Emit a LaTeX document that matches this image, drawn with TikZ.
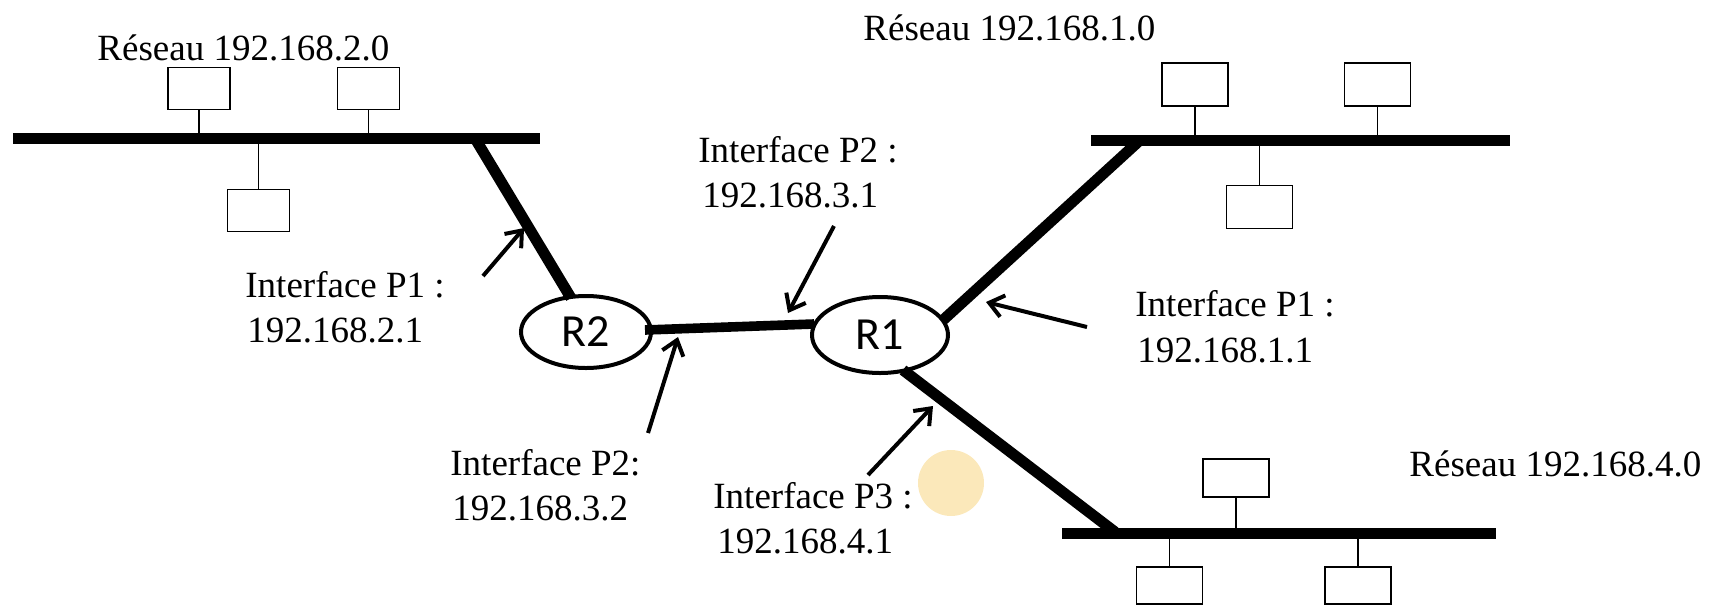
\documentclass[tikz,border=0pt]{standalone}
\usepackage{fontspec}
\setmainfont{Liberation Serif}
\newfontfamily\rfont{Carlito}
\usetikzlibrary{arrows.meta,shapes.geometric}
\definecolor{blobcol}{RGB}{251,232,186}
\begin{document}
\begin{tikzpicture}[x=0.5pt,y=-0.5pt,
  bus/.style={line width=5.5pt},
  link/.style={line width=4.8pt},
  stem/.style={line width=0.75pt},
  netbox/.style={draw, line width=0.75pt, rectangle, minimum width=31pt, minimum height=21pt, inner sep=0pt},
  netboxb/.style={netbox, minimum width=33pt, minimum height=21.5pt},
  router/.style={draw, ellipse, line width=2pt, inner sep=0pt, font=\rfont\fontsize{23}{23}\selectfont},
  lbl/.style={anchor=base west, inner sep=0pt, font=\fontsize{18.5}{22}\selectfont},
  ptr/.style={line width=2pt, -{Straight Barb[length=7pt,width=11pt]}}]
\useasboundingbox (0,0) rectangle (1709,606);

% highlight blob
\fill[blobcol] (951,483) circle[radius=16.5pt];

% routers
\node[router, minimum width=65pt, minimum height=36pt] (R2) at (586,332) {R2};
\node[router, minimum width=68pt, minimum height=38pt] (R1) at (880,335) {R1};

% bus coordinates
\coordinate (bL1) at (13,138.5);
\coordinate (bL2) at (540,138.5);
\coordinate (bT1) at (1091,140.5);
\coordinate (bT2) at (1510,140.5);
\coordinate (bB1) at (1062,533.5);
\coordinate (bB2) at (1496,533.5);

\draw[bus] (bL1) -- (bL2);
\draw[bus] (bT1) -- (bT2);
\draw[bus] (bB1) -- (bB2);

% router links
\coordinate (jL) at (476,140);
\coordinate (r2t) at (571,298);
\coordinate (r2e) at (645,330);
\coordinate (r1w) at (814,324);
\coordinate (r1ne) at (942,321);
\coordinate (jT) at (1138,142);
\coordinate (r1se) at (903,370);
\coordinate (jB) at (1115,532);
\draw[bus] (jL) -- (r2t);
\draw[link] (r2e) -- (r1w);
\draw[bus] (r1ne) -- (jT);
\draw[bus] (r1se) -- (jB);

% hosts, left network
\node[netbox] (hA) at (199,88.5) {};
\node[netbox] (hB) at (368.5,88.5) {};
\node[netbox] (hC) at (258.5,210.5) {};
\draw[stem] (hA.south) -- (hA.south |- bL1);
\draw[stem] (hB.south) -- (hB.south |- bL1);
\draw[stem] (hC.north) -- (hC.north |- bL1);

% hosts, top right network
\node[netboxb] (hD) at (1195,84.5) {};
\node[netboxb] (hE) at (1377.5,84.5) {};
\node[netboxb] (hF) at (1259.5,207) {};
\draw[stem] (hD.south) -- (hD.south |- bT1);
\draw[stem] (hE.south) -- (hE.south |- bT1);
\draw[stem] (hF.north) -- (hF.north |- bT1);

% hosts, bottom right network
\node[netboxb, minimum height=19pt] (hG) at (1236,478) {};
\node[netboxb, minimum height=18.5pt] (hH) at (1169.5,585.5) {};
\node[netboxb, minimum height=18.5pt] (hI) at (1358,585.5) {};
\draw[stem] (hG.south) -- (hG.south |- bB1);
\draw[stem] (hH.north) -- (hH.north |- bB1);
\draw[stem] (hI.north) -- (hI.north |- bB1);

% labels
\node[lbl] (nL) at (97,60) {Réseau 192.168.2.0};
\node[lbl] (nT) at (863,40) {Réseau 192.168.1.0};
\node[lbl] (nB) at (1409,476) {Réseau 192.168.4.0};

\node[lbl] (i1La) at (245,297) {Interface P1 :};
\node[lbl] (i1Lb) at (247,342) {192.168.2.1};
\node[lbl] (i2Ta) at (698,162) {Interface P2 :};
\node[lbl] (i2Tb) at (702,207) {192.168.3.1};
\node[lbl] (i2Ba) at (450,475) {Interface P2:};
\node[lbl] (i2Bb) at (452,520) {192.168.3.2};
\node[lbl] (i3a) at (713,508) {Interface P3 :};
\node[lbl] (i3b) at (717,553) {192.168.4.1};
\node[lbl] (i1Ra) at (1135,316) {Interface P1 :};
\node[lbl] (i1Rb) at (1137,362) {192.168.1.1};

% pointer arrows
\coordinate (a1s) at (483,276); \coordinate (a1e) at (524,228);
\coordinate (a2s) at (834,226); \coordinate (a2e) at (788,313);
\coordinate (a3s) at (648,433); \coordinate (a3e) at (678,337);
\coordinate (a4s) at (868,475); \coordinate (a4e) at (933,406);
\coordinate (a5s) at (1087,327); \coordinate (a5e) at (986,302);
\draw[ptr] (a1s) -- (a1e);
\draw[ptr] (a2s) -- (a2e);
\draw[ptr] (a3s) -- (a3e);
\draw[ptr] (a4s) -- (a4e);
\draw[ptr] (a5s) -- (a5e);
\end{tikzpicture}
\end{document}
